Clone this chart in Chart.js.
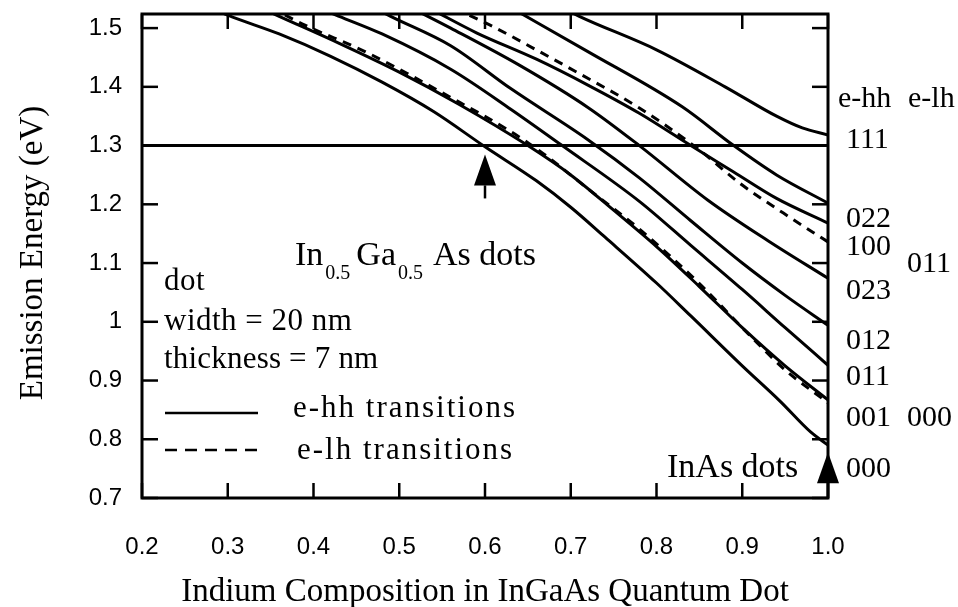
<!DOCTYPE html>
<html>
<head>
<meta charset="utf-8">
<script src="https://cdn.jsdelivr.net/npm/chart.js@4.4.1/dist/chart.umd.min.js"></script>
<style>
  html, body { margin: 0; padding: 0; background: #fff; }
  #wrap { width: 958px; height: 607px; }
</style>
</head>
<body>
<div id="wrap"><canvas id="c" width="958" height="607"></canvas></div>
<script>
// Axis ticks
const xTicks = [0.2, 0.3, 0.4, 0.5, 0.6, 0.7, 0.8, 0.9, 1.0];
const yTicks = [0.7, 0.8, 0.9, 1.0, 1.1, 1.2, 1.3, 1.4, 1.5];
const refEnergy = 1.3;   // 1.3 eV reference line

// e-hh transitions (solid): indium composition / emission energy (eV)
const hh000X = [0.28, 0.30, 0.36, 0.42, 0.48, 0.54, 0.60, 0.66, 0.70, 0.74, 0.80, 0.84, 0.90, 0.944, 0.98, 1.0];
const hh000E = [1.535, 1.522, 1.49, 1.452, 1.408, 1.358, 1.298, 1.24, 1.195, 1.144, 1.066, 1.01, 0.925, 0.865, 0.812, 0.790];

const hh001X = [0.33, 0.36, 0.43, 0.50, 0.57, 0.65, 0.70, 0.75, 0.80, 0.85, 0.90, 0.95, 1.0];
const hh001E = [1.54, 1.52, 1.474, 1.425, 1.37, 1.30, 1.25, 1.19, 1.128, 1.06, 0.99, 0.925, 0.867];

const hh011X = [0.41, 0.43, 0.48, 0.56, 0.63, 0.69, 0.78, 0.84, 0.90, 0.95, 1.0];
const hh011E = [1.532, 1.52, 1.49, 1.43, 1.362, 1.30, 1.205, 1.13, 1.055, 0.99, 0.926];

const hh012X = [0.47, 0.49, 0.56, 0.63, 0.72, 0.78, 0.84, 0.90, 0.95, 1.0];
const hh012E = [1.535, 1.52, 1.47, 1.397, 1.31, 1.245, 1.172, 1.10, 1.045, 0.994];

const hh023X = [0.52, 0.56, 0.64, 0.72, 0.78, 0.86, 0.93, 1.0];
const hh023E = [1.53, 1.50, 1.437, 1.365, 1.30, 1.207, 1.138, 1.074];

const hh100X = [0.54, 0.59, 0.66, 0.72, 0.78, 0.84, 0.89, 0.94, 1.0];
const hh100E = [1.53, 1.492, 1.447, 1.403, 1.355, 1.30, 1.255, 1.21, 1.168];

const hh022X = [0.63, 0.72, 0.83, 0.89, 0.94, 1.0];
const hh022E = [1.535, 1.46, 1.366, 1.30, 1.25, 1.202];

const hh111X = [0.69, 0.71, 0.80, 0.88, 0.94, 0.97, 1.0];
const hh111E = [1.535, 1.52, 1.463, 1.40, 1.35, 1.33, 1.318];

// e-lh transitions (dashed)
const lh000X = [0.35, 0.39, 0.46, 0.55, 0.65, 0.73, 0.78, 0.85, 0.91, 0.95, 1.0];
const lh000E = [1.535, 1.505, 1.46, 1.39, 1.305, 1.215, 1.158, 1.065, 0.975, 0.918, 0.862];

const lh011X = [0.565, 0.61, 0.656, 0.707, 0.78, 0.847, 0.897, 0.948, 1.0];
const lh011E = [1.533, 1.502, 1.466, 1.425, 1.364, 1.296, 1.236, 1.185, 1.136];

// state labels at the right edge
const hhLabels = ['111', '022', '100', '023', '012', '011', '001', '000'];
const lhLabels = ['011', '000'];

const pts = (xs, es) => xs.map((v, i) => ({ x: v, y: es[i] }));

const SERIF = "'Liberation Serif', 'Times New Roman', serif";
const SANS = "'Liberation Sans', Arial, sans-serif";

function curve(xs, es, dashed) {
  return {
    data: pts(xs, es),
    borderColor: '#000',
    borderWidth: 3,
    borderDash: dashed ? [9, 7] : [],
    pointRadius: 0,
    cubicInterpolationMode: 'monotone',
    fill: false
  };
}

const datasets = [
  curve(hh000X, hh000E), curve(hh001X, hh001E), curve(hh011X, hh011E),
  curve(hh012X, hh012E), curve(hh023X, hh023E), curve(hh100X, hh100E),
  curve(hh022X, hh022E), curve(hh111X, hh111E),
  curve(lh000X, lh000E, true), curve(lh011X, lh011E, true),
  {
    data: [{ x: xTicks[0], y: refEnergy }, { x: xTicks[xTicks.length - 1], y: refEnergy }],
    borderColor: '#000', borderWidth: 3, pointRadius: 0, fill: false
  }
];

// frame, inward ticks, arrows and text
const decor = {
  id: 'decor',
  afterDraw(chart) {
    const { ctx, chartArea: a, scales: { x, y } } = chart;
    const line = (x1, y1, x2, y2) => { ctx.beginPath(); ctx.moveTo(x1, y1); ctx.lineTo(x2, y2); ctx.stroke(); };
    const text = (t, px, py, font, spacing) => {
      ctx.font = font;
      ctx.letterSpacing = (spacing || 0) + 'px';
      ctx.fillText(t, px, py);
      ctx.letterSpacing = '0px';
    };
    ctx.save();
    ctx.strokeStyle = '#000';
    ctx.fillStyle = '#000';
    ctx.setLineDash([]);

    ctx.lineWidth = 3;
    ctx.strokeRect(a.left, a.top, a.right - a.left, a.bottom - a.top);

    ctx.lineWidth = 2.5;
    xTicks.forEach(v => {
      const px = x.getPixelForValue(v);
      line(px, a.bottom, px, a.bottom - 15);
      line(px, a.top, px, a.top + 15);
    });
    yTicks.forEach(v => {
      const py = y.getPixelForValue(v);
      line(a.left, py, a.left + 16, py);
      line(a.right, py, a.right - 16, py);
    });

    // arrows
    const arrow = (cx, tipE, headH, halfW, tailPx) => {
      const px = x.getPixelForValue(cx);
      const tip = y.getPixelForValue(tipE);
      ctx.beginPath();
      ctx.moveTo(px, tip);
      ctx.lineTo(px + halfW, tip + headH);
      ctx.lineTo(px - halfW, tip + headH);
      ctx.closePath();
      ctx.fill();
      ctx.lineWidth = 2.5;
      line(px, tip + headH, px, tailPx);
    };
    arrow(0.6, 1.285, 31, 11, y.getPixelForValue(1.21));
    arrow(1.0, 0.778, 31, 11, a.bottom);

    // axis titles
    ctx.textBaseline = 'alphabetic';
    ctx.textAlign = 'center';
    text('Indium Composition in InGaAs Quantum Dot', 485, 601, '33px ' + SERIF);
    ctx.save();
    ctx.translate(42, 253);
    ctx.rotate(-Math.PI / 2);
    text('Emission Energy (eV)', 0, 0, '33px ' + SERIF);
    ctx.restore();

    // In0.5Ga0.5As dots
    ctx.textAlign = 'left';
    let tx = 295;
    const big = '34px ' + SERIF, small = '20px ' + SERIF;
    const seg = (t, f, base) => { ctx.font = f; ctx.fillText(t, tx, base); tx += ctx.measureText(t).width; };
    seg('In', big, 265); tx += 2; seg('0.5', small, 279); tx += 6;
    seg('Ga', big, 265); tx += 2; seg('0.5', small, 279); tx += 10;
    seg('As dots', big, 265);

    // dot description
    text('dot', 164, 290, '31px ' + SERIF, 0.5);
    text('width = 20 nm', 164, 330, '31px ' + SERIF, 0.5);
    text('thickness = 7 nm', 164, 368, '31px ' + SERIF, 0.2);

    // key
    ctx.lineWidth = 2.5;
    line(165, 413, 258, 413);
    ctx.setLineDash([12, 8]);
    line(165, 450, 258, 450);
    ctx.setLineDash([]);
    text('e-hh transitions', 293, 417, '31px ' + SERIF, 2);
    text('e-lh transitions', 297, 459, '31px ' + SERIF, 2);

    text('InAs dots', 667, 477, '34px ' + SERIF);

    // right-hand state labels
    const lf = '30px ' + SERIF;
    text('e-hh', 838, 107, lf);
    text('e-lh', 908, 107, lf);
    const hhBase = [148, 227, 255, 299, 349, 385, 426, 477];
    hhLabels.forEach((t, i) => text(t, 846, hhBase[i], lf));
    const lhBase = [272, 426];
    lhLabels.forEach((t, i) => text(t, 907, lhBase[i], lf));

    ctx.restore();
  }
};

new Chart(document.getElementById('c'), {
  type: 'line',
  data: { datasets },
  plugins: [decor],
  options: {
    responsive: false,
    devicePixelRatio: 1,
    animation: false,
    events: [],
    layout: { padding: { left: 0, right: 130, top: 14, bottom: 0 } },
    plugins: { legend: { display: false }, tooltip: { enabled: false } },
    scales: {
      x: {
        type: 'linear', min: 0.2, max: 1.0,
        afterFit: s => { s.height = 109; s.paddingLeft = 0; s.paddingRight = 0; },
        afterBuildTicks: s => { s.ticks = xTicks.map(v => ({ value: v })); },
        grid: { display: false, drawTicks: false },
        border: { display: false },
        ticks: {
          padding: 35, color: '#000',
          font: { family: SANS, size: 24 },
          callback: v => v.toFixed(1)
        }
      },
      y: {
        type: 'linear', min: 0.7, max: 1.524,
        afterFit: s => { s.width = 142; s.paddingTop = 0; s.paddingBottom = 0; },
        afterBuildTicks: s => { s.ticks = yTicks.map(v => ({ value: v })); },
        grid: { display: false, drawTicks: false },
        border: { display: false },
        ticks: {
          padding: 20, color: '#000',
          font: { family: SANS, size: 24 },
          callback: v => (Math.abs(v - 1) < 1e-9 ? '1' : String(+v.toFixed(1)))
        }
      }
    }
  }
});
</script>
</body>
</html>
